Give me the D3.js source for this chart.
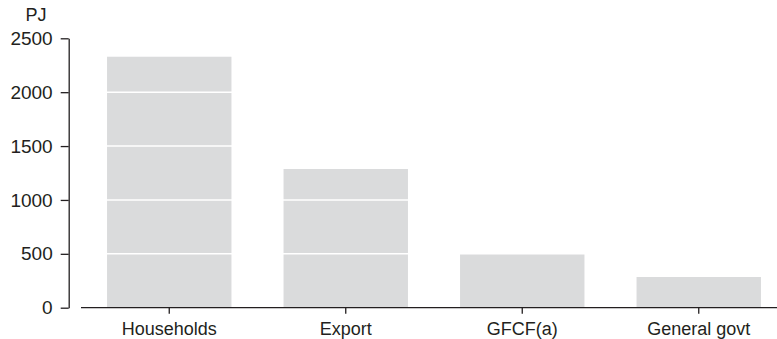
<!DOCTYPE html>
<html><head><meta charset="utf-8">
<script src="https://cdn.jsdelivr.net/npm/d3@7"></script>
<style>
html,body{margin:0;padding:0;background:#fff;}
text{font-family:"Liberation Sans",Arial,sans-serif;fill:#231f20;}
</style></head>
<body>
<script>
const categories = ["Households", "Export", "GFCF(a)", "General govt"];
const values = [2329, 1287, 505, 285];
const yTicks = [0, 500, 1000, 1500, 2000, 2500];
const gridValues = [500, 1000, 1500, 2000];
const unitLabel = "PJ";

const W = 777, H = 339;
const svg = d3.select("body").append("svg").attr("width", W).attr("height", H);

const y = d3.scaleLinear().domain([0, 2500]).range([307.7, 38.3]);
const x = d3.scaleBand().domain(categories).range([81, 787]).paddingInner(0.295).paddingOuter(0.1475);

// bars
svg.append("g").selectAll("rect").data(values).join("rect")
  .attr("x", (d, i) => x(categories[i]))
  .attr("width", x.bandwidth())
  .attr("y", d => y(d))
  .attr("height", d => y(0) - y(d))
  .attr("fill", "#dadbdc");

// white gridlines over bars
svg.append("g").selectAll("line").data(gridValues).join("line")
  .attr("x1", 81).attr("x2", W)
  .attr("y1", d => y(d)).attr("y2", d => y(d))
  .attr("stroke", "#fff").attr("stroke-width", 1.5);

// y axis
const yAxis = d3.axisLeft(y).tickValues(yTicks).tickFormat(d3.format("d")).tickSize(8).tickPadding(8).tickSizeOuter(0);
const gy = svg.append("g").attr("transform", "translate(68.7,0)").call(yAxis);
gy.select(".domain").attr("stroke", "#231f20").attr("stroke-width", 1.3);
gy.selectAll(".tick line").attr("stroke", "#231f20").attr("stroke-width", 1.3);
gy.selectAll(".tick text").attr("font-size", 19).attr("font-family", "Liberation Sans, Arial, sans-serif").attr("fill", "#231f20");

// x axis
const xAxis = d3.axisBottom(x).tickSize(6).tickPadding(9).tickSizeOuter(0);
const gx = svg.append("g").attr("transform", `translate(0,${y(0)})`).call(xAxis);
gx.select(".domain").attr("d", `M81,0H${W}`).attr("stroke", "#231f20").attr("stroke-width", 1.3);
gx.selectAll(".tick line").attr("stroke", "#231f20").attr("stroke-width", 1.3);
gx.selectAll(".tick text").attr("font-size", 18).attr("font-family", "Liberation Sans, Arial, sans-serif").attr("fill", "#231f20");

// unit label
svg.append("text").attr("x", 36).attr("y", 21).attr("text-anchor", "middle")
  .attr("font-size", 18).text(unitLabel);
</script>
</body></html>
